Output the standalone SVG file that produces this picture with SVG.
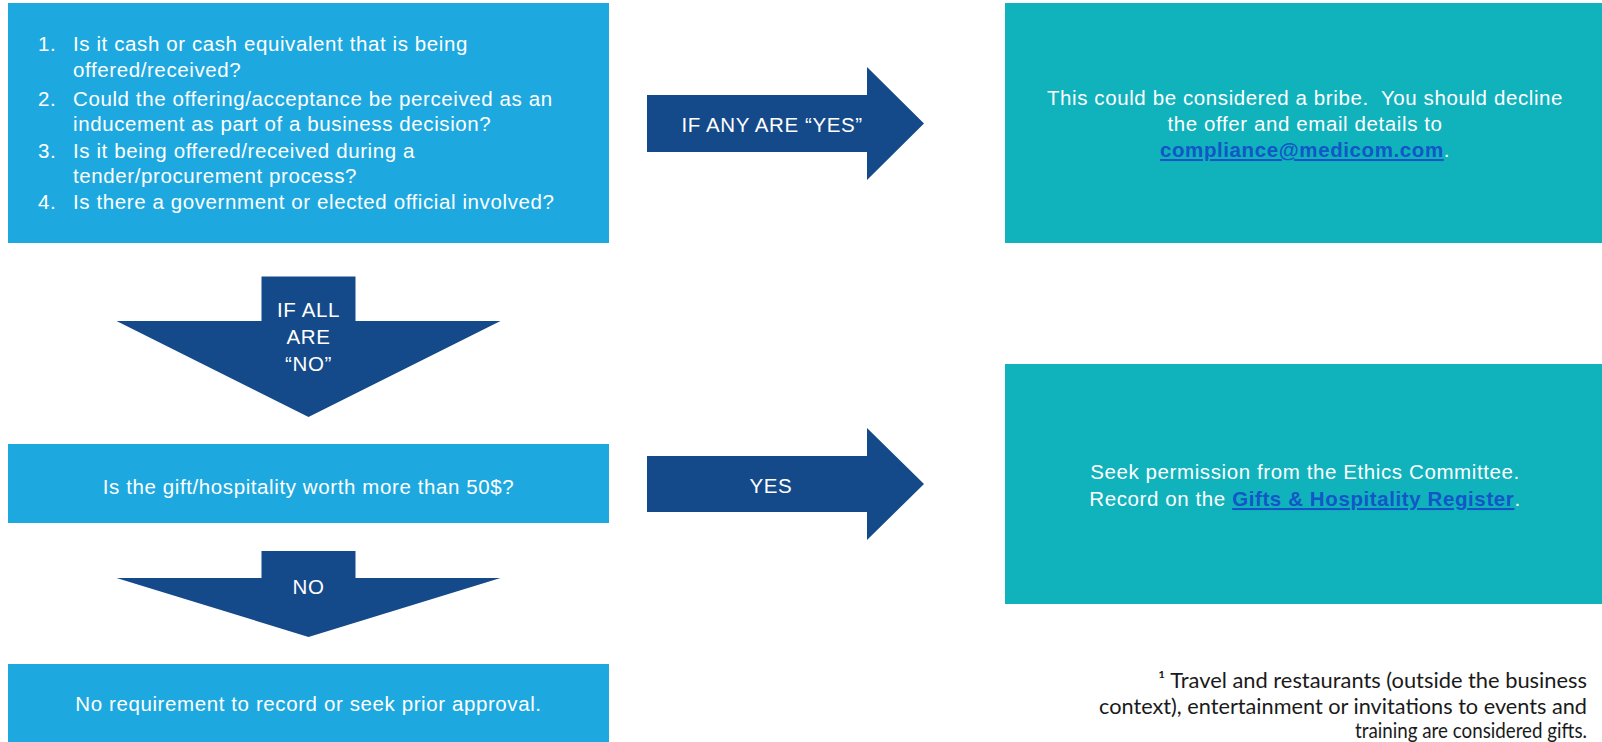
<svg xmlns="http://www.w3.org/2000/svg" width="1602" height="742" viewBox="0 0 1602 742">
  <style>
    .blue { fill: #1DA9E0; }
    .teal { fill: #10B2BC; }
    .arrow { fill: #154A8A; }
    .t { font-family: "Liberation Sans", Arial, sans-serif; font-size: 20.5px; letter-spacing: 0.6px; fill: #FFFFFF; }
    .c { text-anchor: middle; }
    .link { fill: #1256C8; font-weight: bold; text-decoration: underline; }
    .note { font-family: Lato, "Open Sans", sans-serif; font-size: 21px; fill: #1A1A1A; }
  </style>

  <g id="connectors">
    <g id="arrow-any-yes">
      <polygon class="arrow" points="647,95 867,95 867,67 924,123.5 867,180 867,152 647,152"/>
      <text class="t c" x="772" y="131.5">IF ANY ARE “YES”</text>
    </g>
    <g id="arrow-all-no">
      <polygon class="arrow" points="261.5,276.5 355.5,276.5 355.5,321 500.5,321 308.5,417 116.5,321 261.5,321"/>
      <text class="t c" x="308.5" y="316.5">IF ALL</text>
      <text class="t c" x="308.5" y="343.5">ARE</text>
      <text class="t c" x="308.5" y="370.5">“NO”</text>
    </g>
    <g id="arrow-yes">
      <polygon class="arrow" points="647,456 867,456 867,428 924,484 867,540 867,512 647,512"/>
      <text class="t c" x="771" y="492.5">YES</text>
    </g>
    <g id="arrow-no">
      <polygon class="arrow" points="261.5,551 355.5,551 355.5,578 500.5,578 308.5,637 116.5,578 261.5,578"/>
      <text class="t c" x="308.5" y="594">NO</text>
    </g>
  </g>

  <g id="node-questions">
    <rect class="blue" x="8" y="3" width="601" height="240"/>
    <text class="t" x="38" y="51">1.</text>
    <text class="t" x="73" y="51">Is it cash or cash equivalent that is being</text>
    <text class="t" x="73" y="77">offered/received?</text>
    <text class="t" x="38" y="106">2.</text>
    <text class="t" x="73" y="106">Could the offering/acceptance be perceived as an</text>
    <text class="t" x="73" y="131">inducement as part of a business decision?</text>
    <text class="t" x="38" y="158">3.</text>
    <text class="t" x="73" y="158">Is it being offered/received during a</text>
    <text class="t" x="73" y="183">tender/procurement process?</text>
    <text class="t" x="38" y="209">4.</text>
    <text class="t" x="73" y="209">Is there a government or elected official involved?</text>
  </g>

  <g id="node-bribe">
    <rect class="teal" x="1005" y="3" width="597" height="240"/>
    <text class="t c" x="1305" y="105" xml:space="preserve">This could be considered a bribe.  You should decline</text>
    <text class="t c" x="1305" y="131">the offer and email details to</text>
    <text class="t c" x="1305" y="157"><tspan class="link">compliance@medicom.com</tspan>.</text>
  </g>

  <g id="node-worth">
    <rect class="blue" x="8" y="444" width="601" height="79"/>
    <text class="t c" x="308.5" y="493.5">Is the gift/hospitality worth more than 50$?</text>
  </g>

  <g id="node-permission">
    <rect class="teal" x="1005" y="364" width="597" height="240"/>
    <text class="t c" x="1305" y="479">Seek permission from the Ethics Committee.</text>
    <text class="t c" x="1305" y="506">Record on the <tspan class="link">Gifts &amp; Hospitality Register</tspan>.</text>
  </g>

  <g id="node-no-requirement">
    <rect class="blue" x="8" y="664" width="601" height="78"/>
    <text class="t c" x="308.5" y="711">No requirement to record or seek prior approval.</text>
  </g>

  <g id="footnote">
    <text class="note" x="1158" y="688" textLength="429" lengthAdjust="spacingAndGlyphs">¹ Travel and restaurants (outside the business</text>
    <text class="note" x="1099" y="714" textLength="488" lengthAdjust="spacingAndGlyphs">context), entertainment or invitations to events and</text>
    <text class="note" x="1355" y="738" textLength="232" lengthAdjust="spacingAndGlyphs">training are considered gifts.</text>
  </g>
</svg>
